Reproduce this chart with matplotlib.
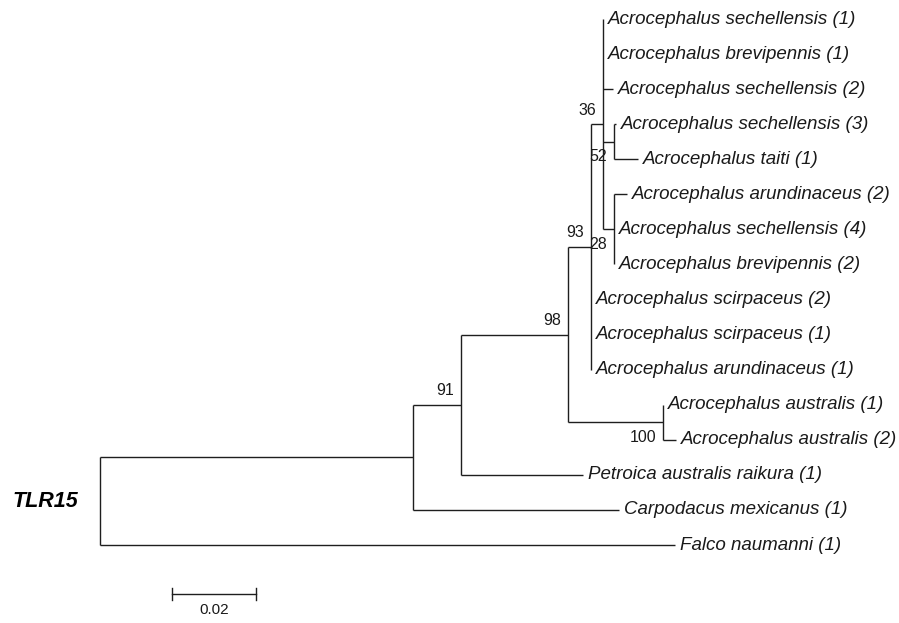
import matplotlib
matplotlib.use("Agg")
import matplotlib.pyplot as plt

# tips, top to bottom, with the node they hang from and their branch length
taxa = [
    "Acrocephalus sechellensis (1)",
    "Acrocephalus brevipennis (1)",
    "Acrocephalus sechellensis (2)",
    "Acrocephalus sechellensis (3)",
    "Acrocephalus taiti (1)",
    "Acrocephalus arundinaceus (2)",
    "Acrocephalus sechellensis (4)",
    "Acrocephalus brevipennis (2)",
    "Acrocephalus scirpaceus (2)",
    "Acrocephalus scirpaceus (1)",
    "Acrocephalus arundinaceus (1)",
    "Acrocephalus australis (1)",
    "Acrocephalus australis (2)",
    "Petroica australis raikura (1)",
    "Carpodacus mexicanus (1)",
    "Falco naumanni (1)",
]
taxon_parent = ["n36", "n36", "n36", "n52", "n52", "n28", "n28", "n28",
                "n93", "n93", "n93", "n100", "n100", "n91", "nA", "root"]
taxon_branch = [0.0, 0.0, 0.0024, 0.0005, 0.0057, 0.0031, 0.0, 0.0,
                0.0, 0.0, 0.0, 0.0, 0.0031, 0.0292, 0.0493, 0.1376]

# internal nodes (parents listed before children) and bootstrap support
nodes = ["root", "nA", "n91", "n98", "n93", "n36", "n52", "n28", "n100"]
node_parent = [None, "root", "nA", "n91", "n98", "n93", "n36", "n36", "n98"]
node_branch = [0.0, 0.0749, 0.0115, 0.0256, 0.0055, 0.0028, 0.0027, 0.0027, 0.0227]
node_support = [None, None, 91, 98, 93, 36, 52, 28, 100]

gene = "TLR15"
scale_len = 0.02

LINE = "#1e1e1e"
TEXT = "#1a1a1a"

# node depth
x = {}
for name, par, bl in zip(nodes, node_parent, node_branch):
    x[name] = bl if par is None else x[par] + bl
tip_x = [x[p] + bl for p, bl in zip(taxon_parent, taxon_branch)]

# child y positions per node
children = {n: [] for n in nodes}
for i, p in enumerate(taxon_parent):
    children[p].append(i)
y = {}
for name in reversed(nodes):
    ys = children[name]
    y[name] = (min(ys) + max(ys)) / 2
    par = node_parent[nodes.index(name)]
    if par is not None:
        children[par].append(y[name])

fig = plt.figure(figsize=(8.99, 6.23), dpi=100)
ax = fig.add_axes([0, 0, 1, 1])
px = 4180.0  # pixels per unit branch length
ax.set_xlim(-100 / px, (899 - 100) / px)
row = 35.07
ax.set_ylim((623 - 19) / row, -19 / row)
ax.axis("off")

lw = 1.0
# vertical bars at internal nodes
for name in nodes:
    ys = children[name]
    ax.plot([x[name], x[name]], [min(ys), max(ys)], color=LINE, lw=lw,
            solid_capstyle="butt")
# horizontal branches to internal nodes
for name, par in zip(nodes, node_parent):
    if par is not None:
        ax.plot([x[par], x[name]], [y[name], y[name]], color=LINE, lw=lw,
                solid_capstyle="butt")
# horizontal branches to tips and tip labels
for i, (name, par) in enumerate(zip(taxa, taxon_parent)):
    if tip_x[i] > x[par]:
        ax.plot([x[par], tip_x[i]], [i, i], color=LINE, lw=lw,
                solid_capstyle="butt")
    ax.annotate(name, (tip_x[i], i), xytext=(5, 0), textcoords="offset pixels",
                ha="left", va="center", fontsize=13.5, style="italic",
                family="Liberation Sans", color=TEXT)

# bootstrap values next to nodes
support_below = {"n52", "n28", "n100"}
for name, s in zip(nodes, node_support):
    if s is None:
        continue
    dy = -15 if name in support_below else 14
    ax.annotate(str(s), (x[name], y[name]), xytext=(-7, dy),
                textcoords="offset pixels", ha="right", va="center",
                fontsize=11.5, family="Liberation Sans", color=TEXT)

# gene label
ax.text(-88 / px, y["root"], gene, ha="left", va="center", fontsize=15.5,
        weight="bold", style="italic", family="Liberation Sans", color="black")

# scale bar
sb_x0 = 72 / px
sb_y = (594 - 19) / row
tick = 6 / row
ax.plot([sb_x0, sb_x0 + scale_len], [sb_y, sb_y], color=LINE, lw=lw)
for xe in (sb_x0, sb_x0 + scale_len):
    ax.plot([xe, xe], [sb_y - tick, sb_y + tick], color=LINE, lw=lw)
ax.text(sb_x0 + scale_len / 2, (610 - 19) / row, f"{scale_len:.2f}",
        ha="center", va="center", fontsize=11, family="Liberation Sans",
        color=TEXT)

fig.savefig("out.png", dpi=100)
